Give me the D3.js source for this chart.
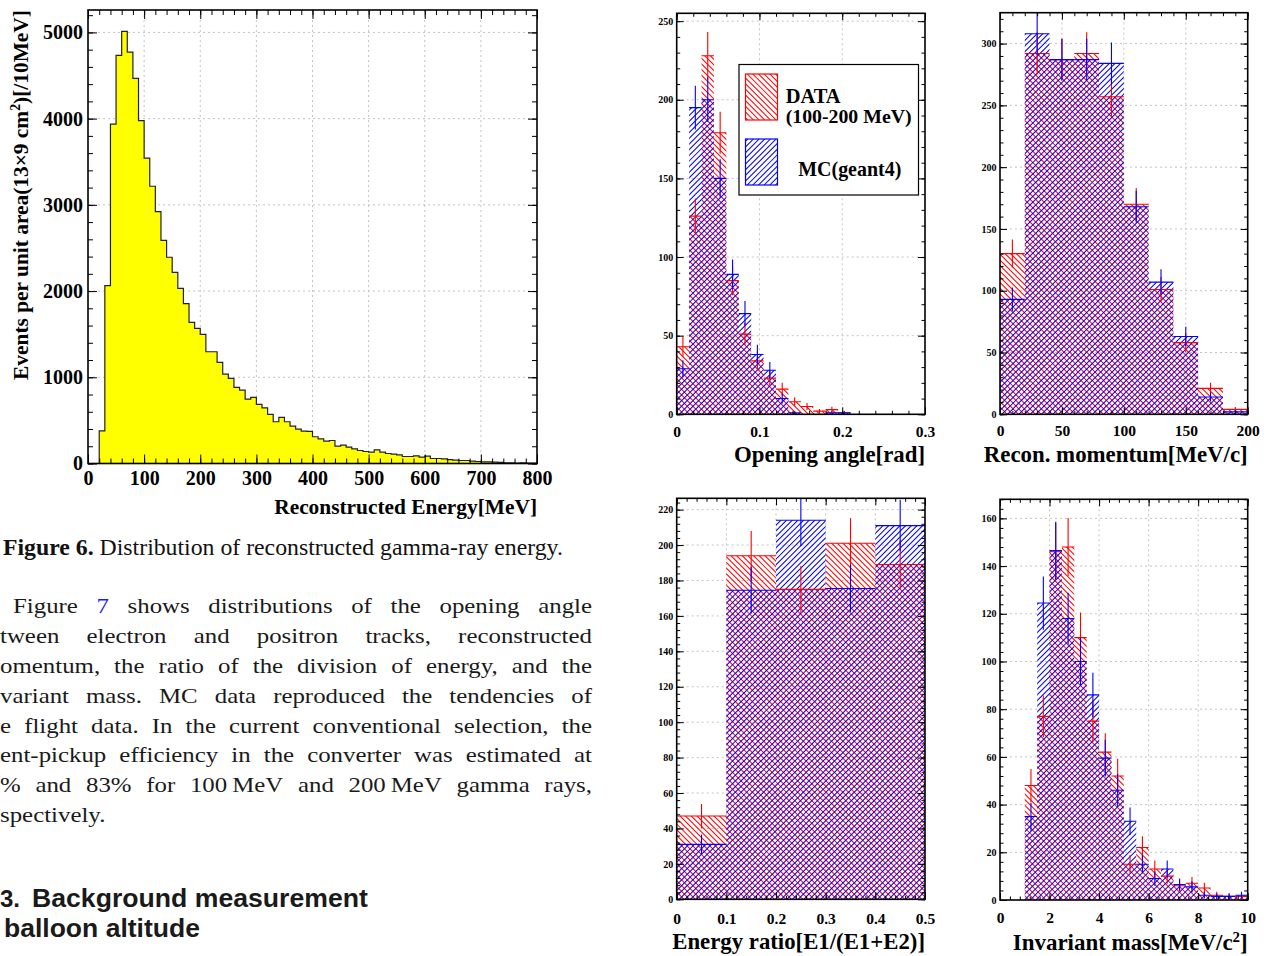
<!DOCTYPE html>
<html>
<head>
<meta charset="utf-8">
<script src="https://cdn.jsdelivr.net/npm/d3@7"></script>
<style>
  body { margin: 0; background: #fff; }
  svg { display: block; }
</style>
</head>
<body>
<svg id="page" width="1273" height="956"></svg>
<script>
// ---- data ----
// Fig 6: reconstructed energy, 10 MeV bins starting at 20 MeV
const energyStart = 20, energyStep = 10;
const energyCounts = [379, 2063, 3936, 4733, 5012, 4772, 4466, 3978, 3541, 3216,
  2922, 2589, 2392, 2217, 2032, 1854, 1637, 1567, 1498, 1296,
  1296, 1173, 1037, 987, 882, 851, 747, 766, 685, 646,
  569, 484, 534, 484, 433, 399, 375, 372, 310, 286,
  259, 267, 201, 213, 190, 170, 151, 139, 132, 159,
  132, 116, 108, 101, 81, 81, 89, 74, 85, 58,
  58, 54, 46, 39, 35, 35, 27, 23, 19, 19,
  15, 12, 8, 8, 6, 8, 5, 5];

// Fig 7a: opening angle, bins of 0.015 rad
const angleStep = 0.015;
const angleData = [43, 126, 228, 179, 85, 51, 34, 23, 16, 8, 5, 2, 3, 1];
const angleMC   = [29, 195, 200, 150, 89, 64, 38, 28, 10, 1, 0, 0, 1, 1];

// Fig 7b: reconstructed momentum, 20 MeV/c bins
const momStep = 20;
const momData = [130, 292, 287, 292, 257, 170, 101, 58, 21, 4];
const momMC   = [93, 308, 287, 287, 284, 168, 107, 63, 14, 2];

// Fig 7c: energy ratio, bins of 0.1
const ratioStep = 0.1;
const ratioData = [47, 194, 175, 201, 189];
const ratioMC   = [31, 174.5, 214, 175.5, 211];

// Fig 7d: invariant mass, 0.5 MeV/c2 bins from 1.0
const massStart = 1.0, massStep = 0.5;
const massData = [48, 77, 146, 148, 110, 75, 62, 52, 15, 22, 13, 10, 6, 7, 5, 2, 1.5, 1.5];
const massMC   = [35, 124.5, 146.5, 118, 100, 86, 59.5, 46, 33, 15, 9, 13, 6.5, 5.5, 2, 1.5, 1.5, 2];

const legendLabels = ['DATA', '(100-200 MeV)', 'MC(geant4)'];

const paraLines = [
  'Figure 7 shows distributions of the opening angle',
  'tween electron and positron tracks, reconstructed',
  'omentum, the ratio of the division of energy, and the',
  'variant mass. MC data reproduced the tendencies of',
  'e flight data. In the current conventional selection, the',
  'ent-pickup efficiency in the converter was estimated at',
  '% and 83% for 100\u2009MeV and 200\u2009MeV gamma rays,',
  'spectively.'
];

const SERIF = "'Liberation Serif', 'Times New Roman', serif";
const SANS = "'Liberation Sans', Arial, sans-serif";
const RED = '#ff0000', BLUE = '#0000ff';
const HATCH = 5.66; // horizontal spacing of hatch lines

const svg = d3.select('#page');
svg.append('rect').attr('width', 1273).attr('height', 956).attr('fill', '#fff');
const defs = svg.append('defs');
let clipCount = 0;

// 45deg hatch lines over a box; back = "\" else "/"
function hatchLines(parent, box, color, back) {
  const H = box.y1 - box.y0;
  const k0 = Math.floor((box.x0 - H) / HATCH), k1 = Math.ceil(box.x1 / HATCH);
  const ks = d3.range(k0, k1 + 1);
  parent.append('g').attr('stroke', color).attr('stroke-width', 1.05)
    .selectAll('line').data(ks).join('line')
    .attr('x1', k => k * HATCH).attr('x2', k => k * HATCH + H)
    .attr('y1', back ? box.y0 : box.y1).attr('y2', back ? box.y1 : box.y0);
}

function steps(lo, hi, step) {
  const n = Math.round((hi - lo) / step + 1e-6);
  return d3.range(n + 1).map(i => +(lo + i * step).toFixed(6));
}

function fitWidth(sel, w) {
  const cur = sel.node().getComputedTextLength();
  const fs = parseFloat(sel.attr('font-size'));
  sel.attr('font-size', fs * w / cur);
  return sel;
}

// ROOT-like frame with ticks on all sides and dotted grid
function makePanel(c) {
  const g = svg.append('g');
  const x = d3.scaleLinear().domain(c.xDomain).range([c.left, c.right]);
  const y = d3.scaleLinear().domain(c.yDomain).range([c.bottom, c.top]);
  const xMaj = steps(c.xDomain[0], c.xDomain[1], c.xMajor).filter(v => v <= c.xDomain[1] + 1e-9);
  const yMaj = steps(0, Math.floor(c.yDomain[1] / c.yMajor) * c.yMajor, c.yMajor);
  const xMin = steps(c.xDomain[0], c.xDomain[1], c.xMinor);
  const yMin = steps(0, Math.floor(c.yDomain[1] / c.yMinor) * c.yMinor, c.yMinor);

  const id = 'frameclip' + (clipCount++);
  defs.append('clipPath').attr('id', id).append('rect')
    .attr('x', c.left).attr('y', c.top)
    .attr('width', c.right - c.left).attr('height', c.bottom - c.top);

  const grid = g.append('g').attr('stroke', '#c4c4c4').attr('stroke-dasharray', '2,3').attr('stroke-width', 1);
  grid.selectAll('.gx').data(xMaj.filter(v => v > c.xDomain[0] && v < c.xDomain[1]))
    .join('line').attr('x1', d => x(d)).attr('x2', d => x(d)).attr('y1', c.top).attr('y2', c.bottom);
  grid.selectAll('.gy').data(yMaj.filter(v => v > 0))
    .join('line').attr('y1', d => y(d)).attr('y2', d => y(d)).attr('x1', c.left).attr('x2', c.right);

  const layer = g.append('g').attr('clip-path', `url(#${id})`);
  const axes = g.append('g');

  const style = s => {
    s.select('.domain').remove();
    s.selectAll('line').attr('stroke', '#000').attr('stroke-width', 1);
    s.attr('font-family', SERIF).attr('font-weight', 'bold');
  };
  const fmtX = c.xFmt || (d => d);
  // bottom
  axes.append('g').attr('transform', `translate(0,${c.bottom})`)
    .call(d3.axisBottom(x).tickValues(xMaj).tickSize(-c.majLen).tickPadding(c.xPad).tickFormat(fmtX))
    .call(style).attr('font-size', c.xFont);
  axes.append('g').attr('transform', `translate(0,${c.bottom})`)
    .call(d3.axisBottom(x).tickValues(xMin).tickSize(-c.minLen).tickFormat('')).call(style);
  // top
  axes.append('g').attr('transform', `translate(0,${c.top})`)
    .call(d3.axisTop(x).tickValues(xMaj).tickSize(-c.majLen).tickFormat('')).call(style);
  axes.append('g').attr('transform', `translate(0,${c.top})`)
    .call(d3.axisTop(x).tickValues(xMin).tickSize(-c.minLen).tickFormat('')).call(style);
  // left
  axes.append('g').attr('transform', `translate(${c.left},0)`)
    .call(d3.axisLeft(y).tickValues(yMaj).tickSize(-c.majLen).tickPadding(c.yPad).tickFormat(d => d))
    .call(style).attr('font-size', c.yFont);
  axes.append('g').attr('transform', `translate(${c.left},0)`)
    .call(d3.axisLeft(y).tickValues(yMin).tickSize(-c.minLen).tickFormat('')).call(style);
  // right
  axes.append('g').attr('transform', `translate(${c.right},0)`)
    .call(d3.axisRight(y).tickValues(yMaj).tickSize(-c.majLen).tickFormat('')).call(style);
  axes.append('g').attr('transform', `translate(${c.right},0)`)
    .call(d3.axisRight(y).tickValues(yMin).tickSize(-c.minLen).tickFormat('')).call(style);

  g.append('rect')
    .attr('x', c.left).attr('y', c.top)
    .attr('width', c.right - c.left).attr('height', c.bottom - c.top)
    .attr('fill', 'none').attr('stroke', '#000').attr('stroke-width', 1.6);

  return { g, x, y, layer, axes, c };
}

function axisTitle(p, text, sup, rest, cy, width) {
  const t = p.g.append('text')
    .attr('x', p.c.right).attr('y', cy + 7)
    .attr('text-anchor', 'end')
    .attr('font-family', SERIF).attr('font-weight', 'bold').attr('font-size', 20)
    .text(text);
  if (sup) {
    t.append('tspan').attr('dy', -8).attr('font-size', '0.65em').text(sup);
    t.append('tspan').attr('dy', 8).text(rest);
  }
  fitWidth(t, width);
  return t;
}

// hatched histogram: bins become a clip region, hatch lines are drawn through it
function hatchHist(p, start, step, vals, color, back) {
  const id = 'histclip' + (clipCount++);
  defs.append('clipPath').attr('id', id)
    .selectAll('rect').data(vals).join('rect')
    .attr('x', (d, i) => p.x(start + i * step))
    .attr('width', (d, i) => p.x(start + (i + 1) * step) - p.x(start + i * step))
    .attr('y', d => p.y(d))
    .attr('height', d => p.y(0) - p.y(d));
  const hg = p.layer.append('g').attr('clip-path', `url(#${id})`);
  hatchLines(hg, { x0: p.c.left, x1: p.c.right, y0: p.c.top, y1: p.c.bottom }, color, back);
}

function crosses(p, start, step, vals, color) {
  const gg = p.layer.append('g').attr('stroke', color).attr('stroke-width', 1.1);
  const pts = vals.map((v, i) => ({ v, i })).filter(d => d.v > 0);
  gg.selectAll('.h').data(pts).join('line')
    .attr('x1', d => p.x(start + d.i * step)).attr('x2', d => p.x(start + (d.i + 1) * step))
    .attr('y1', d => p.y(d.v)).attr('y2', d => p.y(d.v));
  // Poisson error bars
  gg.selectAll('.v').data(pts).join('line')
    .attr('x1', d => p.x(start + (d.i + 0.5) * step)).attr('x2', d => p.x(start + (d.i + 0.5) * step))
    .attr('y1', d => p.y(d.v + Math.sqrt(d.v))).attr('y2', d => p.y(Math.max(0, d.v - Math.sqrt(d.v))));
}

// ---------------- Figure 6 ----------------
const pE = makePanel({
  left: 88, right: 537, top: 10, bottom: 463.5,
  xDomain: [0, 800], yDomain: [0, 5260],
  xMajor: 100, xMinor: 20, yMajor: 1000, yMinor: 200,
  majLen: 9, minLen: 5, xPad: 7, yPad: 5, xFont: 20, yFont: 20
});
const ePts = energyCounts.map((v, i) => [energyStart + i * energyStep, v]);
ePts.push([energyStart + energyCounts.length * energyStep, energyCounts[energyCounts.length - 1]]);
pE.layer.append('path')
  .attr('d', d3.area().x(d => pE.x(d[0])).y0(pE.y(0)).y1(d => pE.y(d[1])).curve(d3.curveStepAfter)(ePts))
  .attr('fill', '#ffff00');
const outline = [[energyStart, 0]].concat(ePts, [[ePts[ePts.length - 1][0], 0]]);
pE.layer.append('path')
  .attr('d', d3.line().x(d => pE.x(d[0])).y(d => pE.y(d[1])).curve(d3.curveStepAfter)(outline))
  .attr('fill', 'none').attr('stroke', '#222').attr('stroke-width', 1.2);
pE.axes.raise();
axisTitle(pE, 'Reconstructed Energy[MeV]', null, null, 507, 263);
{
  const t = pE.g.append('text')
    .attr('transform', 'translate(28,195) rotate(-90)')
    .attr('text-anchor', 'middle')
    .attr('font-family', SERIF).attr('font-weight', 'bold').attr('font-size', 19)
    .text('Events per unit area(13\u00d79 cm');
  t.append('tspan').attr('dy', -8).attr('font-size', '0.65em').text('2');
  t.append('tspan').attr('dy', 8).text(')[/10MeV]');
  fitWidth(t, 370);
}

// caption + body text
{
  const cap = svg.append('text').attr('x', 3).attr('y', 555)
    .attr('font-family', SERIF).attr('font-size', 20).attr('fill', '#111');
  cap.append('tspan').attr('font-weight', 'bold').text('Figure 6.');
  cap.append('tspan').text(' Distribution of reconstructed gamma-ray energy.');
  fitWidth(cap, 560);

  // the page scan is a little wider than tall, so stretch body text horizontally
  const SX = 1.13;
  const body = svg.append('g').attr('transform', `scale(${SX},1)`);
  const starts = [13, 0, 0, 0, 0, 0, 0, 0];
  const right = 592;
  const measure = body.append('text').attr('font-family', SERIF).attr('font-size', 22);
  measure.text('a b'); const sp = measure.node().getComputedTextLength();
  measure.text('ab'); const space = sp - measure.node().getComputedTextLength();
  paraLines.forEach((ln, li) => {
    const words = ln.split(' ');
    const ws = words.map(w => { measure.text(w); return measure.node().getComputedTextLength(); });
    const justify = li < paraLines.length - 1;
    const gap = justify ? (right / SX - starts[li] / SX - d3.sum(ws)) / (words.length - 1) : space;
    const t = body.append('text').attr('y', 613 + li * 29.9)
      .attr('font-family', SERIF).attr('font-size', 22).attr('fill', '#1a1a1a');
    let xx = starts[li] / SX;
    words.forEach((w, k) => {
      t.append('tspan').attr('x', xx).attr('fill', (li === 0 && w === '7') ? '#1a1aff' : null).text(w);
      xx += ws[k] + gap;
    });
  });
  measure.remove();

  svg.append('text').attr('x', 0).attr('y', 907)
    .attr('font-family', SANS).attr('font-weight', 'bold').attr('font-size', 24).attr('fill', '#1a1a1a')
    .text('3.');
  const h1 = svg.append('text').attr('x', 32).attr('y', 907)
    .attr('font-family', SANS).attr('font-weight', 'bold').attr('font-size', 24).attr('fill', '#1a1a1a')
    .text('Background measurement');
  fitWidth(h1, 336);
  const h2 = svg.append('text').attr('x', 4).attr('y', 937)
    .attr('font-family', SANS).attr('font-weight', 'bold').attr('font-size', 24).attr('fill', '#1a1a1a')
    .text('balloon altitude');
  fitWidth(h2, 196);
}

// ---------------- Figure 7 panels ----------------
const smallCfg = { majLen: 7, minLen: 3.5, yPad: 3.5, yFont: 10, xFont: 15.5 };

const pA = makePanel(Object.assign({
  left: 676.7, right: 925, top: 13.3, bottom: 414.3,
  xDomain: [0, 0.3], yDomain: [0, 255],
  xMajor: 0.1, xMinor: 0.02, yMajor: 50, yMinor: 10, xPad: 12
}, smallCfg));
hatchHist(pA, 0, angleStep, angleData, RED, true);
hatchHist(pA, 0, angleStep, angleMC, BLUE, false);
crosses(pA, 0, angleStep, angleData, RED);
crosses(pA, 0, angleStep, angleMC, BLUE);
axisTitle(pA, 'Opening angle[rad]', null, null, 455, 191);

// legend
{
  const lg = pA.g.append('g');
  lg.append('rect').attr('x', 739).attr('y', 64.5).attr('width', 179.5).attr('height', 130.5)
    .attr('fill', '#fff').attr('stroke', '#000').attr('stroke-width', 1.2);
  const swatch = (y0, color, back) => {
    const box = { x0: 745.5, x1: 777.5, y0: y0, y1: y0 + 46 };
    const id = 'legclip' + (clipCount++);
    defs.append('clipPath').attr('id', id).append('rect')
      .attr('x', box.x0).attr('y', box.y0).attr('width', box.x1 - box.x0).attr('height', box.y1 - box.y0);
    hatchLines(lg.append('g').attr('clip-path', `url(#${id})`), box, color, back);
    lg.append('rect').attr('x', box.x0).attr('y', box.y0).attr('width', 32).attr('height', 46)
      .attr('fill', 'none').attr('stroke', color).attr('stroke-width', 1.2);
  };
  swatch(74, RED, true);
  swatch(139, BLUE, false);
  const lt = (txt, x, y, w) => fitWidth(lg.append('text').attr('x', x).attr('y', y)
    .attr('font-family', SERIF).attr('font-weight', 'bold').attr('font-size', 17).text(txt), w);
  lt(legendLabels[0], 785.7, 103, 55);
  lt(legendLabels[1], 785.7, 123, 126);
  lt(legendLabels[2], 798.3, 176, 103);
}

const pB = makePanel(Object.assign({
  left: 1000, right: 1247.7, top: 12.7, bottom: 414.3,
  xDomain: [0, 200], yDomain: [0, 325],
  xMajor: 50, xMinor: 10, yMajor: 50, yMinor: 10, xPad: 11
}, smallCfg));
hatchHist(pB, 0, momStep, momData, RED, true);
hatchHist(pB, 0, momStep, momMC, BLUE, false);
crosses(pB, 0, momStep, momData, RED);
crosses(pB, 0, momStep, momMC, BLUE);
axisTitle(pB, 'Recon. momentum[MeV/c]', null, null, 455, 264);

const pC = makePanel(Object.assign({
  left: 676.7, right: 925, top: 498.3, bottom: 899.3,
  xDomain: [0, 0.5], yDomain: [0, 226.4],
  xMajor: 0.1, xMinor: 0.02, yMajor: 20, yMinor: 4, xPad: 14
}, smallCfg));
hatchHist(pC, 0, ratioStep, ratioData, RED, true);
hatchHist(pC, 0, ratioStep, ratioMC, BLUE, false);
crosses(pC, 0, ratioStep, ratioData, RED);
crosses(pC, 0, ratioStep, ratioMC, BLUE);
axisTitle(pC, 'Energy ratio[E1/(E1+E2)]', null, null, 942, 253);

const pD = makePanel(Object.assign({
  left: 1000, right: 1247.7, top: 499.3, bottom: 900,
  xDomain: [0, 10], yDomain: [0, 168],
  xMajor: 2, xMinor: 0.4, yMajor: 20, yMinor: 4, xPad: 12
}, smallCfg));
hatchHist(pD, massStart, massStep, massData, RED, true);
hatchHist(pD, massStart, massStep, massMC, BLUE, false);
crosses(pD, massStart, massStep, massData, RED);
crosses(pD, massStart, massStep, massMC, BLUE);
axisTitle(pD, 'Invariant mass[MeV/c', '2', ']', 943, 235);
</script>
</body>
</html>
